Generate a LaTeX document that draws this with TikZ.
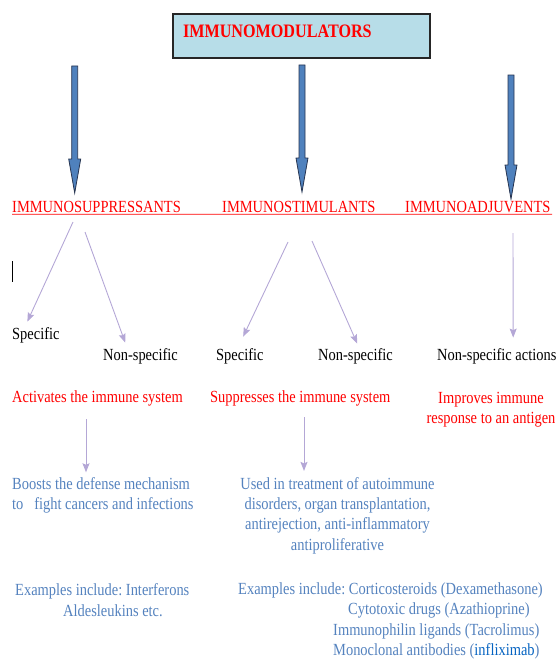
\documentclass[tikz,border=0pt]{standalone}
\usepackage{fontspec}
\newfontfamily\diagfont{Liberation Serif}[FakeStretch=0.85]
\usepackage{tikz}
\usetikzlibrary{arrows.meta}
\frenchspacing
\definecolor{boxblue}{RGB}{183,221,232}
\definecolor{arrowblue}{RGB}{79,129,189}
\definecolor{arrowedge}{RGB}{38,52,80}
\definecolor{textblue}{RGB}{84,130,190}
\definecolor{linkblue}{RGB}{5,99,193}
\definecolor{lavender}{RGB}{180,167,214}
\tikzset{x=1pt, y=-1pt, % One unit is one pixel of the page, y grows downwards
    every node/.style=
    { % Plain text, no frame
        inner sep=0pt,
        font=\fontsize{17}{20.4}\diagfont
    },
    titlebox/.style={ % The box at the top
        draw=black!85, line width=1.1pt, fill=boxblue,
        minimum width=257pt, minimum height=44pt,
        text width=237pt, align=left,
        text height=12.6pt, text depth=9pt,
        text=red, font=\fontsize{19}{22}\diagfont\bfseries
    },
    heading/.style={anchor=west, text=red},
    kind/.style={anchor=west, text=black},
    effect/.style={text=red},
    usage/.style={text=textblue},
    bigarrow/.style={fill=arrowblue, draw=arrowedge, line width=0.8pt},
    thinarrow/.style={ % Lavender arrows
        draw=lavender, line width=0.9pt,
        -{Stealth[length=9pt, width=7pt, inset=1.5pt]}
    }
}
\begin{document}
\begin{tikzpicture}
    \useasboundingbox (0,0) rectangle (559,661);
    \node[titlebox] (title) at (301.5,36) {IMMUNOMODULATORS};
    % big block arrows
    \foreach \x/\ya/\yb in {74.7/66/193, 302/65/192, 511/75/199}
        \draw[bigarrow] (\x-3,\ya) -- (\x+3,\ya) -- (\x+3,\yb-34) -- (\x+6,\yb-34)
            -- (\x,\yb) -- (\x-6,\yb-34) -- (\x-3,\yb-34) -- cycle;

    \node[heading] (sup) at (12,206.5) {IMMUNOSUPPRESSANTS};
    \node[heading] (sti) at (222,206.5) {IMMUNOSTIMULANTS};
    \node[heading] (adj) at (405,206.5) {IMMUNOADJUVENTS};
    \draw[red, line width=0.9pt] ([yshift=-1.8pt]sup.south west) -- ([yshift=-1.8pt]adj.south east -| 552,0);

    \draw[black, line width=0.8pt] (12,261) -- (12,282);

    \node[kind] (spec1) at (12,335) {Specific};
    \node[kind] (nons1) at (103,356) {Non-specific};
    \node[kind] (spec2) at (216,356) {Specific};
    \node[kind] (nons2) at (318,356) {Non-specific};
    \node[kind] (nonsact) at (437,356) {Non-specific actions};

    \node[effect, anchor=west] (act) at (12,398) {Activates the immune system};
    \node[effect, anchor=west] (supp) at (210,398) {Suppresses the immune system};
    \node[effect, align=center] (impr) at (491,410) {Improves immune\\response to an antigen};

    \node[usage, anchor=west, align=left] (boost) at (12,495.5)
        {Boosts the defense mechanism\\to\ \ \ fight cancers and infections};
    \node[usage, align=center] (used) at (337.5,515.5)
        {Used in treatment of autoimmune\\disorders, organ transplantation,\\antirejection, anti-inflammatory\\antiproliferative};

    \node[usage, anchor=west, align=left] (ex1) at (15,600)
        {Examples include: Interferons\\\hspace*{48pt}Aldesleukins etc.};
    \node[usage, anchor=west, align=left] (ex2) at (238,621)
        {Examples include: Corticosteroids (Dexamethasone)\\
         \hspace*{110pt}Cytotoxic drugs (Azathioprine)\\
         \hspace*{95pt}Immunophilin ligands (Tacrolimus)\\
         \hspace*{95pt}Monoclonal antibodies ({\color{linkblue}infliximab})};

    % start points below the headings
    \coordinate (s1) at (73,222);
    \coordinate (s2) at (85,232);
    \coordinate (s3) at (288,242);
    \coordinate (s4) at (312,241);
    \coordinate (s5) at (513,233);
    \coordinate (s6) at (86,419);
    \coordinate (s7) at (304,417);

    \draw[thinarrow] (s1) -- ([shift={(-8.5,-5.4)}]spec1.north);
    \draw[thinarrow] (s2) -- ([shift={(-15.3,-5.4)}]nons1.north);
    \draw[thinarrow] (s3) -- ([shift={(3.3,-11.4)}]spec2.north);
    \draw[thinarrow] (s4) -- ([shift={(1.7,-4.4)}]nons2.north);
    \draw[thinarrow] (s5) -- ([shift={(16.4,-10.4)}]nonsact.north);
    \draw[thinarrow] (s6) -- ([yshift=5pt]s6 |- boost.north);
    \draw[thinarrow] (s7) -- ([yshift=6pt]s7 |- used.north);
\end{tikzpicture}
\end{document}
